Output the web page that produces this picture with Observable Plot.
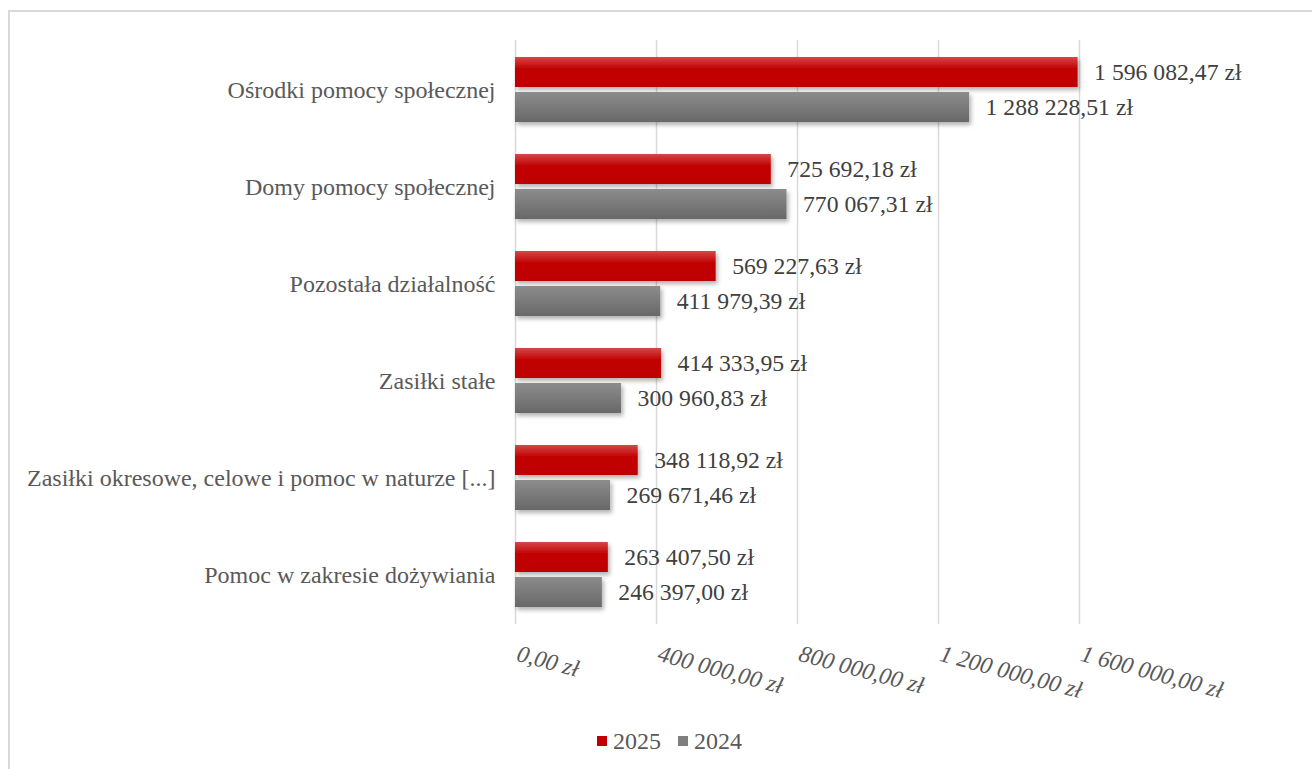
<!DOCTYPE html>
<html>
<head>
<meta charset="utf-8">
<script src="https://cdn.jsdelivr.net/npm/d3@7"></script>
<script src="https://cdn.jsdelivr.net/npm/@observablehq/plot@0.6"></script>
<style>
  html, body { margin: 0; padding: 0; background: #fff; width: 1312px; height: 769px; overflow: hidden; }
  #frame { position: absolute; left: 8px; top: 10px; width: 1320px; height: 780px; border: 2px solid #d9d9d9; box-sizing: border-box; }
  #chart { position: absolute; left: 0; top: 0; }
  #legend { position: absolute; top: 729px; left: 0; width: 1312px; height: 24px; font-family: "Liberation Serif", "Times New Roman", serif; font-size: 24px; color: #595959; }
  .item { position: absolute; top: 0; height: 24px; line-height: 24px; display: flex; align-items: center; }
  .sw { width: 10px; height: 10px; margin-right: 6px; }
</style>
</head>
<body>
<div id="frame"></div>
<div id="chart"></div>
<div id="legend"></div>
<script>
const categories = [
  "Ośrodki pomocy społecznej",
  "Domy pomocy społecznej",
  "Pozostała działalność",
  "Zasiłki stałe",
  "Zasiłki okresowe, celowe i pomoc w naturze [...]",
  "Pomoc w zakresie dożywiania"
];
const series = ["2025", "2024"];
const values2025 = [1596082.47, 725692.18, 569227.63, 414333.95, 348118.92, 263407.50];
const values2024 = [1288228.51, 770067.31, 411979.39, 300960.83, 269671.46, 246397.00];
const xTicks = [0, 400000, 800000, 1200000, 1600000];

const pl = d3.formatLocale({decimal: ",", thousands: " ", grouping: [3], currency: ["", ""]});
const fmtNum = pl.format(",.2f");
const fmt = v => fmtNum(v) + " zł";

const data2025 = categories.map((c, i) => ({category: c, series: series[0], value: values2025[i]}));
const data2024 = categories.map((c, i) => ({category: c, series: series[1], value: values2024[i]}));

const FONT = "'Liberation Serif', 'Times New Roman', serif";

const chart = Plot.plot({
  width: 1312,
  height: 700,
  marginLeft: 515,
  marginRight: 233,
  marginTop: 40,
  marginBottom: 76,
  style: {fontFamily: FONT, fontSize: "24px", color: "#595959", background: "transparent", overflow: "visible"},
  x: {domain: [0, 1600000], axis: null},
  y: {domain: categories, padding: 0, label: null, tickSize: 0, tickPadding: 20},
  marks: [
    Plot.gridX(xTicks, {stroke: "#d9d9d9", strokeOpacity: 1, strokeWidth: 1.5}),
    Plot.barX(data2025, {x: "value", y: "category", fill: "url(#gradRed)", insetTop: 16, insetBottom: 51}),
    Plot.barX(data2024, {x: "value", y: "category", fill: "url(#gradGray)", insetTop: 51, insetBottom: 16}),
    Plot.text(data2025, {x: "value", y: "category", text: d => fmt(d.value), dx: 16, dy: -17.5, textAnchor: "start", fill: "#404040", fontSize: 23.7}),
    Plot.text(data2024, {x: "value", y: "category", text: d => fmt(d.value), dx: 16, dy: 17.5, textAnchor: "start", fill: "#404040", fontSize: 23.7}),
    Plot.text(xTicks, {x: d => d, frameAnchor: "bottom", dy: 36, rotate: 15, textAnchor: "start", lineAnchor: "bottom", text: d => fmt(d), fill: "#595959", fontStyle: "italic", fontSize: 23.7})
  ]
});

const svg = d3.select(chart);
const defs = svg.insert("defs", ":first-child");
const gr = defs.append("linearGradient").attr("id", "gradRed").attr("x1", 0).attr("y1", 0).attr("x2", 0).attr("y2", 1);
gr.append("stop").attr("offset", "0%").attr("stop-color", "#d44848");
gr.append("stop").attr("offset", "40%").attr("stop-color", "#c20000");
gr.append("stop").attr("offset", "100%").attr("stop-color", "#bf0000");
const gg = defs.append("linearGradient").attr("id", "gradGray").attr("x1", 0).attr("y1", 0).attr("x2", 0).attr("y2", 1);
gg.append("stop").attr("offset", "0%").attr("stop-color", "#8c8c8c");
gg.append("stop").attr("offset", "100%").attr("stop-color", "#686868");
const f = defs.append("filter").attr("id", "shadow").attr("x", "-5%").attr("y", "-30%").attr("width", "115%").attr("height", "180%");
f.append("feDropShadow").attr("dx", 2).attr("dy", 3).attr("stdDeviation", 2).attr("flood-color", "#000").attr("flood-opacity", 0.3);
svg.selectAll('g[aria-label="bar"]').attr("filter", "url(#shadow)");

document.getElementById("chart").appendChild(chart);

const legend = document.getElementById("legend");
const items = [{label: series[0], color: "#c00000", left: 597}, {label: series[1], color: "#7f7f7f", left: 678}];
for (const it of items) {
  const d = document.createElement("div");
  d.className = "item";
  d.style.left = it.left + "px";
  const sw = document.createElement("span");
  sw.className = "sw";
  sw.style.background = it.color;
  const t = document.createElement("span");
  t.textContent = it.label;
  d.appendChild(sw);
  d.appendChild(t);
  legend.appendChild(d);
}
</script>
</body>
</html>
